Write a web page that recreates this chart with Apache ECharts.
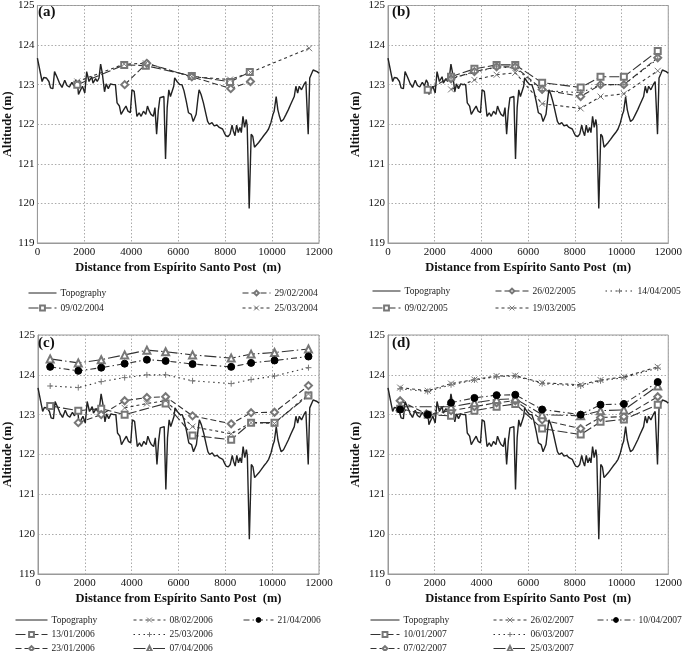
<!DOCTYPE html>
<html><head><meta charset="utf-8">
<script src="https://cdn.jsdelivr.net/npm/echarts@6/dist/echarts.min.js"></script>
<style>html,body{margin:0;padding:0;background:#fff}#c{width:685px;height:651px}</style>
</head><body><div id="c"></div>
<script>
// ---- Data ----
const topoDist = [0,60,200,270,380,490,560,660,730,830,940,1050,1165,1260,1360,1470,1560,1640,1710,1750,1825,1920,2020,2100,2200,2315,2370,2480,2550,2625,2695,2765,2860,2930,3020,3115,3230,3325,3395,3495,3565,3680,3775,3860,3960,4030,4125,4240,4335,4420,4520,4620,4690,4770,4840,4940,5010,5080,5150,5220,5290,5390,5460,5530,5600,5670,5740,5810,5850,5950,6065,6160,6245,6345,6440,6555,6640,6695,6765,6835,6890,6975,7075,7185,7255,7325,7440,7535,7650,7750,7820,7890,7960,8030,8125,8210,8295,8350,8420,8490,8560,8630,8690,8760,8830,8900,8940,9025,9110,9180,9250,9335,9430,9530,9640,9750,9850,9950,10040,10090,10175,10245,10315,10385,10485,10595,10695,10790,10875,10945,11015,11090,11160,11255,11355,11440,11495,11540,11605,11675,11750,11820,11915,12000];
const topoAlt = [123.67,123.65,123.08,123.18,123.17,123.08,122.92,122.90,123.33,123.2,123.04,122.93,123.11,122.98,122.94,123.06,122.97,123.12,123.04,122.75,122.85,122.96,122.79,123.33,123.08,123.2,123.04,123.15,123.08,123.17,123.52,123.29,122.82,123.02,122.9,123.02,123.0,123.0,122.54,122.46,122.25,122.37,122.46,122.33,122.29,122.87,122.83,122.2,122.29,122.2,122.33,122.25,122.46,122.33,122.25,122.2,122.42,121.75,122.33,122.67,122.67,122.7,121.12,122.42,122.87,122.7,122.7,122.96,123.17,123.08,123.0,123.0,122.85,122.58,122.29,122.25,122.07,122.12,122.25,122.62,122.87,122.75,122.54,122.25,122.07,122.0,122.04,121.96,121.98,121.92,121.94,121.88,121.79,121.71,121.69,121.75,121.98,121.83,121.71,121.98,121.79,121.92,121.79,122.2,121.92,122.12,121.96,119.87,121.75,121.69,121.42,121.46,121.54,121.62,121.71,121.79,121.88,122.04,122.25,122.33,122.7,122.37,122.2,122.07,122.12,122.25,122.37,122.5,122.54,122.7,122.96,122.79,122.96,122.87,123.0,123.08,123.1,121.75,123.17,123.2,123.37,123.42,123.33,123.29];

// Panel (a) 2004
const a_0902 = [[1700,123.0],[3700,123.5],[4620,123.48],[6580,123.22],[8210,123.07],[9050,123.32]];
const a_2902 = [[3720,123.0],[4660,123.54],[6580,123.2],[8240,122.9],[9080,123.08]];
const a_2503 = [[1700,123.08],[3700,123.52],[4620,123.54],[6580,123.2],[8210,123.13],[9080,123.31],[11580,123.92]];
// Panel (b) 2005
const b_0902 = [[1700,122.87],[2700,123.2],[3700,123.4],[4650,123.5],[5450,123.5],[6600,123.05],[8250,122.93],[9100,123.2],[10100,123.2],[11550,123.85]];
const b_2602 = [[2700,123.15],[3700,123.33],[4650,123.45],[5450,123.45],[6600,122.88],[8250,122.7],[9100,123.0],[10100,123.0],[11550,123.68]];
const b_1404 = [[2700,123.17],[3700,123.3],[4650,123.45],[5450,123.42],[6600,122.85],[8250,122.8],[9100,123.0],[10100,123.0],[11550,123.65]];
const b_1903 = [[2700,122.88],[3700,123.12],[4650,123.25],[5450,123.3],[6600,122.52],[8250,122.4],[9100,122.7],[10100,122.77],[11550,123.35]];
// Panel (c) 2006
const c_1301 = [[520,123.22],[1720,123.1],[2700,123.15],[3700,123.0],[5450,123.28],[6600,122.48],[8250,122.37],[9100,122.8],[10100,122.8],[11550,123.48]];
const c_2301 = [[1720,122.8],[2700,123.0],[3700,123.35],[4650,123.43],[5450,123.45],[6600,122.97],[8250,122.77],[9100,123.05],[10100,123.06],[11550,123.73]];
const c_0802 = [[3700,123.17],[4650,123.28],[5450,123.35],[6600,122.7],[8250,122.52],[9100,122.8],[10100,122.78],[11550,123.52]];
const c_2503 = [[520,123.72],[1720,123.68],[2700,123.83],[3700,123.93],[4650,124.0],[5450,124.0],[6600,123.85],[8250,123.78],[9100,123.88],[10100,123.97],[11550,124.18]];
const c_0704 = [[520,124.4],[1720,124.3],[2700,124.38],[3700,124.5],[4650,124.62],[5450,124.58],[6600,124.5],[8250,124.42],[9100,124.52],[10100,124.56],[11550,124.65]];
const c_2104 = [[520,124.2],[1720,124.1],[2700,124.18],[3700,124.28],[4650,124.38],[5450,124.35],[6600,124.27],[8250,124.2],[9100,124.3],[10100,124.36],[11550,124.46]];
// Panel (d) 2007
const d_1001 = [[520,123.15],[1700,123.0],[2700,122.97],[3700,123.1],[4650,123.2],[5450,123.27],[6600,122.65],[8250,122.5],[9100,122.82],[10100,122.88],[11550,123.25]];
const d_0702 = [[520,123.35],[1700,123.0],[2700,123.1],[3700,123.2],[4650,123.3],[5450,123.35],[6600,122.87],[8250,122.65],[9100,122.93],[10100,122.95],[11550,123.45]];
const d_2602 = [[520,123.68],[1700,123.6],[2700,123.78],[3700,123.88],[4650,123.97],[5450,123.98],[6600,123.8],[8250,123.75],[9100,123.87],[10100,123.95],[11550,124.2]];
const d_0603 = [[520,123.65],[1700,123.58],[2700,123.75],[3700,123.87],[4650,123.95],[5450,123.97],[6600,123.78],[8250,123.72],[9100,123.85],[10100,123.93],[11550,124.17]];
const d_2503 = [[520,123.2],[2700,123.2],[3700,123.3],[4650,123.38],[5450,123.4],[6600,123.0],[8250,122.97],[9100,123.1],[10100,123.12],[11550,123.72]];
const d_1004 = [[520,123.13],[1700,123.0],[2700,123.3],[3700,123.42],[4650,123.49],[5450,123.5],[6600,123.13],[8250,123.0],[9100,123.25],[10100,123.27],[11550,123.82]];

const xTicks = {min:0, max:12000, interval:2000};
const yTicks = {min:119, max:125, interval:1};

// ---- Styles ----
const FONT = '"Liberation Serif","Times New Roman",serif';
const topo = topoDist.map((d,i)=>[d, topoAlt[i]]);
const ST = {
  sq: {symbol:'emptyRect', size:6, dash:[10,3]},
  dm: {symbol:'emptyDiamond', size:7, dash:[6,3]},
  xx: {symbol:'path://M0,0L10,10M10,0L0,10', size:6, dash:[3,3]},
  pl: {symbol:'path://M5,0L5,10M0,5L10,5', size:6, dash:[1.5,3.5]},
  tr: {symbol:'emptyTriangle', size:7, dash:[12,3,1.5,3]},
  dt: {symbol:'circle', size:7, dash:[6,3,1.5,3], fill:true}
};
function ser(name, data, g, s) {
  const st = ST[s];
  return {
    type:'line', name, data, xAxisIndex:g, yAxisIndex:g,
    symbol:st.symbol, symbolSize:st.size, showSymbol:true, z:3,
    lineStyle:{color:'#333', width:1.1, type:st.dash},
    itemStyle: st.fill ? {color:'#000', borderColor:'#000', borderWidth:1}
                       : {color:'#777', borderColor:'#777', borderWidth:1},
    animation:false
  };
}
function topoSer(g) {
  return {type:'line', name:'Topography', data:topo, xAxisIndex:g, yAxisIndex:g,
    showSymbol:false, symbol:'none', z:2, lineStyle:{color:'#222', width:1.4}, itemStyle:{color:'#222'}, animation:false};
}
const grids = [[34,4],[388,4],[34,335],[388,335]];
const yGaps = [22,26,24,26];
const xAxes = grids.map((g,i)=>({
  type:'value', gridIndex:i, ...xTicks,
  name:'Distance from Espírito Santo Post  (m)', nameLocation:'middle', nameGap:18,
  nameTextStyle:{fontFamily:FONT, fontWeight:'bold', fontSize:12.5, color:'#111'},
  axisLabel:{fontFamily:FONT, fontSize:11, color:'#111', margin:4, formatter:v=>String(v)},
  axisLine:{show:true, lineStyle:{color:'#999'}}, axisTick:{show:false},
  splitLine:{show:true, lineStyle:{type:[1.5,2], color:'#aaa', width:1}}
}));
const yAxes = grids.map((g,i)=>({
  type:'value', gridIndex:i, ...yTicks,
  name:'Altitude (m)', nameLocation:'middle', nameGap:yGaps[i],
  nameTextStyle:{fontFamily:FONT, fontWeight:'bold', fontSize:12.5, color:'#111'},
  axisLabel:{fontFamily:FONT, fontSize:11, color:'#111', margin:3, formatter:v=>String(v)},
  axisLine:{show:true, lineStyle:{color:'#999'}}, axisTick:{show:false},
  splitLine:{show:true, lineStyle:{type:[1.5,2], color:'#aaa', width:1}}
}));
// one legend component per entry: [left, centerY, name, sampleWidth]
function li(left, cy, name, w) {
  const item = name === 'Topography'
    ? {name, itemStyle:{color:'rgba(0,0,0,0)', borderColor:'rgba(0,0,0,0)', borderWidth:0}}
    : {name};
  return {left, top:cy-3, orient:'horizontal', data:[item], itemWidth:w, itemHeight:6, itemGap:0,
    padding:0, selectedMode:false, lineStyle:{width:1}, itemStyle:{borderWidth:1},
    textStyle:{fontFamily:FONT, fontSize:9.5, color:'#222', padding:[0,0,0,-1]}};
}
const titles = ['(a)','(b)','(c)','(d)'].map((t,i)=>({text:t, left:grids[i][0]+4, top:grids[i][1]+1,
  textStyle:{fontFamily:FONT, fontWeight:'bold', fontSize:15, color:'#111'}, padding:0}));

const option = {
  backgroundColor:'#fff',
  title: titles,
  grid: grids.map(g=>({left:g[0], top:g[1], width:285, height:239, show:true, borderColor:'#999', borderWidth:1})),
  xAxis: xAxes, yAxis: yAxes,
  legend: [
    li(28, 291, 'Topography', 28), li(28, 306, '09/02/2004', 28),
    li(242, 291, '29/02/2004', 28), li(242, 306, '25/03/2004', 28),
    li(372, 289, 'Topography', 28), li(372, 306, '09/02/2005', 28),
    li(495, 289, '26/02/2005', 33), li(495, 306, '19/03/2005', 33),
    li(605, 289, '14/04/2005', 28),
    li(15, 618, 'Topography', 32), li(15, 632.5, '13/01/2006', 32), li(15, 646.5, '23/01/2006', 32),
    li(133, 618, '08/02/2006', 32), li(133, 632.5, '25/03/2006', 32), li(133, 646.5, '07/04/2006', 32),
    li(243, 618, '21/04/2006', 30),
    li(370, 618, 'Topography', 29), li(370, 632.5, '10/01/2007', 29), li(370, 646.5, '07/02/2007', 29),
    li(493, 618, '26/02/2007', 33), li(493, 632.5, '06/03/2007', 33), li(493, 646.5, '25/03/2007', 33),
    li(597, 618, '10/04/2007', 37)
  ],
  series: [
    topoSer(0), ser('09/02/2004',a_0902,0,'sq'), ser('29/02/2004',a_2902,0,'dm'), ser('25/03/2004',a_2503,0,'xx'),
    topoSer(1), ser('09/02/2005',b_0902,1,'sq'), ser('26/02/2005',b_2602,1,'dm'), ser('14/04/2005',b_1404,1,'pl'), ser('19/03/2005',b_1903,1,'xx'),
    topoSer(2), ser('13/01/2006',c_1301,2,'sq'), ser('23/01/2006',c_2301,2,'dm'), ser('08/02/2006',c_0802,2,'xx'),
      ser('25/03/2006',c_2503,2,'pl'), ser('07/04/2006',c_0704,2,'tr'), ser('21/04/2006',c_2104,2,'dt'),
    topoSer(3), ser('10/01/2007',d_1001,3,'sq'), ser('07/02/2007',d_0702,3,'dm'), ser('26/02/2007',d_2602,3,'xx'),
      ser('06/03/2007',d_0603,3,'pl'), ser('25/03/2007',d_2503,3,'tr'), ser('10/04/2007',d_1004,3,'dt')
  ]
};
const chart = echarts.init(document.getElementById('c'), null, {renderer:'canvas'});
chart.setOption(option);
</script></body></html>
